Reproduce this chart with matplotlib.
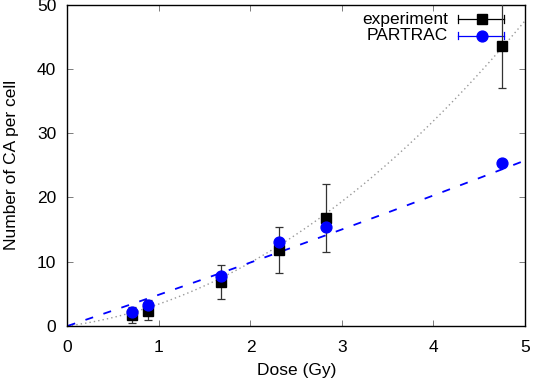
import numpy as np
import matplotlib
matplotlib.use("Agg")
import matplotlib.pyplot as plt

plt.rcParams['font.family'] = ['Liberation Sans', 'DejaVu Sans']

# experiment (dose, mean, lower/upper error bar ends)
dose = [0.70, 0.88, 1.68, 2.31, 2.82, 4.75]
exp_ca = [1.7, 2.4, 6.9, 11.8, 16.8, 43.6]
exp_lo = [0.4, 0.9, 4.2, 8.2, 11.5, 37.0]
exp_hi = [3.0, 4.0, 9.5, 15.4, 22.1, 50.2]

# PARTRAC simulation
partrac_ca = [2.25, 3.3, 7.8, 13.0, 15.4, 25.4]

# linear-quadratic fits: alpha*D + beta*D^2
fit_exp = (1.9, 1.52)
fit_partrac = (4.8, 0.07)

FS = 12.5

fig = plt.figure(figsize=(5.33, 3.81), dpi=100)
ax = fig.add_axes([0.1266, 0.1444, 0.985 - 0.1266, 0.9877 - 0.1444])

d = np.linspace(0, 5, 200)
ax.plot(d, fit_exp[0] * d + fit_exp[1] * d**2, color='#999999', ls=(0, (1, 2.2)), lw=1.0)
ax.plot(d, fit_partrac[0] * d + fit_partrac[1] * d**2, color='#0000ff', ls=(0, (4.5, 6)), lw=1.3)

yerr = [np.array(exp_ca) - np.array(exp_lo), np.array(exp_hi) - np.array(exp_ca)]
ax.errorbar(dose, exp_ca, yerr=yerr, fmt='s', color='black', ecolor='#333333',
            ms=6.8, elinewidth=0.9, capsize=3, capthick=0.9, zorder=3, clip_on=True)
ax.plot(dose, partrac_ca, 'o', color='#0000ff', ms=7.8, zorder=4)

ax.set_xlim(0, 5)
ax.set_ylim(0, 50)
ax.set_xticks([0, 1, 2, 3, 4, 5])
ax.set_yticks([0, 10, 20, 30, 40, 50])
ax.tick_params(direction='in', top=True, right=True, labelsize=FS, length=4, width=0.6,
               color='#666666')
ax.tick_params(axis='x', pad=10)
ax.tick_params(axis='y', pad=8)
for s in ax.spines.values():
    s.set_linewidth(1.0)
ax.set_xlabel('Dose (Gy)', fontsize=FS, labelpad=6)
ax.set_ylabel('Number of CA per cell', fontsize=FS, labelpad=13)

# gnuplot-style key, top right
tr = ax.transAxes
def key_entry(yax, label, color, marker, ms):
    ax.text(0.832, yax, label, transform=tr, ha='right', va='center', fontsize=FS, color='black')
    ax.plot([0.853, 0.955], [yax, yax], color=color, lw=0.9, transform=tr, clip_on=False)
    for xc in (0.853, 0.955):
        ax.plot([xc, xc], [yax - 0.012, yax + 0.012], color=color, lw=0.9, transform=tr, clip_on=False)
    ax.plot([0.905], [yax], marker=marker, color=color, ms=ms, transform=tr, clip_on=False)

key_entry(0.955, 'experiment', 'black', 's', 6.8)
key_entry(0.904, 'PARTRAC', '#0000ff', 'o', 7.8)

fig.savefig('out.png', dpi=100)
